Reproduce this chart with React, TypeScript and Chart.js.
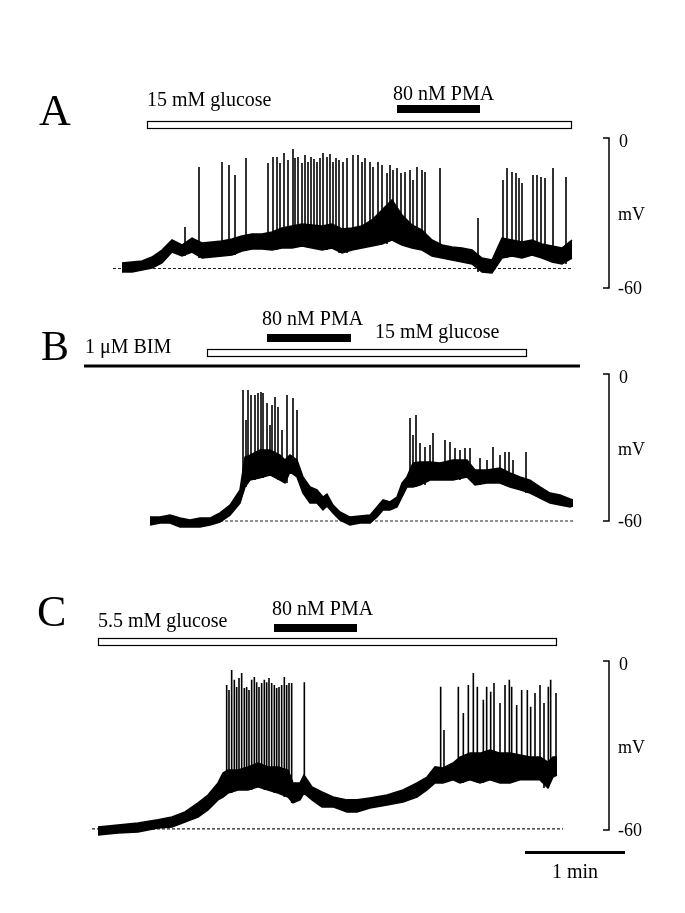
import React, { useEffect, useRef } from "react";
import { Chart, registerables } from "chart.js";

Chart.register(...registerables);

// ---------------- data (time in s, membrane potential in mV) ----------------

// Panel A – 15 mM glucose, 80 nM PMA
const aTime = [0, 6, 12, 18, 24, 30, 36, 42, 48, 54, 60, 66, 72, 78, 84, 90, 96, 102, 108, 114, 120, 126, 132, 138, 144, 150, 156, 162, 168, 174, 180, 186, 192, 198, 204, 210, 216, 222, 228, 234, 240, 246, 252, 258, 264, 270];
const aLow = [-53.6, -53.6, -52.8, -52.0, -50.0, -45.6, -47.2, -45.6, -48.0, -47.6, -47.2, -46.8, -45.2, -44.4, -44.4, -44.8, -44.0, -44.0, -43.2, -44.0, -44.8, -44.0, -46.0, -44.8, -44.0, -43.2, -42.4, -40.8, -42.8, -44.0, -44.8, -47.2, -48.0, -48.8, -49.6, -50.4, -53.6, -54.0, -48.0, -47.2, -48.0, -46.8, -48.0, -49.6, -50.4, -48.0];
const aHigh = [-50.0, -49.6, -49.2, -47.6, -44.8, -40.8, -42.8, -40.0, -42.0, -41.6, -41.2, -40.4, -39.2, -38.4, -38.4, -37.6, -36.0, -35.2, -34.4, -34.8, -35.2, -34.4, -36.4, -36.0, -35.2, -32.8, -28.8, -24.8, -30.8, -34.8, -36.8, -40.8, -42.8, -43.6, -44.0, -44.8, -48.0, -48.8, -40.0, -40.8, -41.6, -40.8, -42.4, -43.2, -44.0, -40.8];
const aSpikeT = [37.8, 46.2, 60, 64.2, 67.8, 74.4, 87.6, 90.6, 93, 94.8, 97.2, 99.6, 102.6, 103.8, 105.6, 108, 109.8, 111.6, 113.4, 115.2, 117, 118.8, 120.6, 123, 124.8, 126.6, 128.4, 130.2, 132.6, 135, 138.6, 141.6, 144, 145.8, 148.8, 150.6, 153.6, 156, 159, 160.8, 162.6, 165, 167.4, 169.8, 172.8, 174.6, 177, 180, 181.8, 190.8, 213.6, 228.6, 231, 234, 236.4, 238.2, 240, 246.6, 249, 251.4, 253.8, 258.6, 266.4];
const aSpikeV = [-35.6, -11.6, -9.6, -10.8, -14.8, -8.0, -10.0, -7.6, -7.6, -10.0, -6.0, -8.8, -4.4, -8.0, -7.6, -10.0, -6.8, -9.6, -7.6, -8.4, -9.6, -8.0, -6.0, -7.6, -6.4, -9.6, -8.0, -8.8, -9.6, -8.0, -6.8, -6.8, -9.6, -8.0, -9.6, -11.6, -9.6, -10.8, -14.0, -10.8, -12.8, -12.0, -14.0, -13.6, -12.8, -16.8, -11.6, -12.8, -13.6, -12.0, -32.0, -16.8, -12.0, -13.6, -14.0, -16.0, -18.0, -14.8, -14.8, -15.6, -16.0, -12.0, -15.6];
const aBaseline = -52.2;
const aBaselineSpan = [-5.4, 270];
const aGlucose = [15, 269.4];
const aPma = [165, 214.8];

// Panel B – 1 µM BIM throughout, 80 nM PMA, 15 mM glucose
const bTime = [0, 6, 12, 18, 24, 30, 36, 42, 48, 54, 57, 60, 66, 72, 78, 81, 84, 88.2, 91.8, 96, 100.2, 103.8, 106.2, 109.8, 114, 120, 126, 132, 136.2, 139.8, 144, 148.2, 151.2, 154.2, 157.8, 162, 168, 174, 181.8, 190.2, 195, 202.2, 210, 216, 222, 228, 234, 240, 246, 252, 253.8];
const bLow = [-61.6, -60.8, -60.8, -62.4, -62.4, -62.4, -61.6, -60.4, -57.6, -52.7, -46.1, -43.3, -42.4, -41.2, -43.3, -44.5, -40.0, -42.0, -48.6, -52.7, -52.7, -55.5, -53.9, -56.7, -59.6, -61.6, -60.8, -60.8, -58.4, -55.5, -55.5, -54.3, -50.2, -46.1, -46.1, -45.3, -43.3, -43.3, -43.3, -42.0, -45.3, -44.5, -44.5, -46.1, -47.3, -48.6, -50.6, -52.7, -53.5, -54.3, -53.9];
const bHigh = [-58.4, -58.4, -57.6, -58.8, -59.6, -58.8, -58.8, -56.7, -53.5, -47.3, -33.9, -33.1, -31.0, -31.0, -33.1, -35.1, -33.1, -35.1, -42.0, -46.1, -47.3, -50.2, -49.0, -53.5, -56.3, -58.4, -58.0, -57.6, -54.3, -51.4, -52.2, -50.2, -44.5, -42.0, -36.3, -35.9, -35.9, -36.3, -35.1, -35.1, -39.2, -39.2, -38.4, -40.4, -42.0, -43.3, -46.1, -48.6, -49.4, -51.0, -51.4];
const bSpikeT = [55.8, 57.6, 58.8, 60.6, 63, 64.8, 66.6, 67.8, 70.2, 72, 73.2, 75, 76.8, 79.2, 82.2, 85.8, 88.2, 156, 157.8, 159.6, 162, 165, 168, 169.8, 177, 180, 183, 186, 189, 192, 198, 202.2, 205.8, 210, 213, 215.4, 217.8, 225.6];
const bSpikeV = [-6.5, -18.8, -6.5, -8.6, -8.6, -7.8, -7.3, -7.8, -11.8, -20.8, -12.7, -9.4, -13.5, -22.9, -8.6, -9.8, -14.7, -18.0, -24.9, -16.7, -28.2, -29.8, -29.0, -24.1, -26.9, -27.8, -30.2, -31.0, -30.2, -30.2, -34.3, -35.1, -29.8, -33.1, -31.8, -31.8, -35.1, -31.8];
const bBaseline = -60;
const bBaselineSpan = [0, 253.8];
const bBim = [-39.6, 258];
const bGlucose = [34.2, 225.6];
const bPma = [70.2, 120.6];

// Panel C – 5.5 mM glucose, 80 nM PMA
const cTime = [0, 12, 24, 36, 44.4, 52.2, 60, 66, 72, 75, 78, 84, 90, 96, 102, 108, 114, 117, 121.2, 123.6, 128.4, 134.4, 141, 149.4, 155.4, 163.2, 173.4, 183, 191.4, 197.4, 202.2, 207, 213, 217.2, 223.2, 229.2, 235.2, 241.2, 247.2, 253.2, 259.2, 265.2, 270, 273, 275.4];
const cLow = [-61.8, -61.1, -60.7, -59.3, -58.9, -57.2, -55.4, -52.9, -49.3, -48.3, -46.9, -45.8, -45.8, -44.7, -45.8, -46.9, -48.3, -50.4, -49.3, -46.9, -49.3, -51.8, -51.8, -53.6, -53.6, -52.2, -51.1, -50.1, -48.3, -45.8, -43.3, -43.3, -42.2, -43.3, -42.2, -43.3, -42.2, -43.3, -43.3, -42.2, -42.2, -42.2, -45.1, -41.2, -40.5];
const cHigh = [-58.9, -58.2, -57.5, -56.4, -55.4, -53.6, -50.4, -47.6, -43.3, -39.8, -38.7, -38.7, -37.6, -36.2, -37.6, -37.6, -38.7, -43.3, -43.3, -40.5, -44.7, -46.5, -48.3, -49.3, -49.3, -48.6, -47.6, -45.8, -43.3, -41.2, -37.6, -38.0, -36.2, -34.1, -32.7, -32.7, -31.6, -32.7, -32.7, -33.4, -34.1, -34.1, -35.9, -34.1, -34.1];
const cSpikeT = [77.2, 78.6, 80.2, 81.8, 83.2, 84.6, 86.2, 87.8, 89.2, 90.6, 92.2, 93.8, 95.2, 96.6, 98.2, 99.8, 101.2, 102.6, 104.2, 105.8, 107.2, 108.6, 110.2, 111.8, 113.2, 114.6, 116.2, 123.8, 205.6, 207.6, 216.2, 219.2, 222.2, 225.2, 227.6, 231.2, 233.2, 235.6, 237.6, 241.2, 244.2, 246.8, 248.2, 251.2, 254.2, 257.6, 259.6, 262.2, 265.2, 267.6, 270.2, 271.6, 274.8];
const cSpikeV = [-8.5, -10.3, -3.2, -6.7, -9.2, -6.0, -4.3, -9.6, -9.2, -10.3, -6.7, -5.7, -7.5, -9.2, -7.8, -6.7, -7.5, -6.0, -7.8, -8.5, -9.6, -9.2, -8.5, -5.7, -8.5, -7.8, -7.8, -7.5, -9.1, -24.5, -9.1, -18.5, -8.5, -4.3, -9.1, -13.8, -9.1, -10.9, -7.8, -14.9, -8.5, -6.7, -9.1, -15.6, -10.3, -10.3, -16.2, -11.4, -8.5, -14.9, -9.1, -6.7, -11.4];
const cBaseline = -59.6;
const cBaselineSpan = [-3.6, 279];
const cGlucose = [0, 274.8];
const cPma = [105.6, 155.4];

// scale-bar values
const mvScale = [0, -60];
const timeScaleSec = 60;

// ---------------- layout ----------------
const W = 685;
const H = 913;
const SEC_PER_PX = 0.6;
const SERIF = '"Liberation Serif", "Times New Roman", Times, serif';

type Panel = {
  id: string;
  time: number[];
  low: number[];
  high: number[];
  spikeT: number[];
  spikeV: number[];
  baseline: number;
  baselineSpan: number[];
  x0: number; // pixel where t = 0
  y0: number; // pixel of 0 mV
  y60: number; // pixel of -60 mV
};

const panels: Panel[] = [
  { id: "A", time: aTime, low: aLow, high: aHigh, spikeT: aSpikeT, spikeV: aSpikeV, baseline: aBaseline, baselineSpan: aBaselineSpan, x0: 122, y0: 138, y60: 288 },
  { id: "B", time: bTime, low: bLow, high: bHigh, spikeT: bSpikeT, spikeV: bSpikeV, baseline: bBaseline, baselineSpan: bBaselineSpan, x0: 150, y0: 374, y60: 521 },
  { id: "C", time: cTime, low: cLow, high: cHigh, spikeT: cSpikeT, spikeV: cSpikeV, baseline: cBaseline, baselineSpan: cBaselineSpan, x0: 98, y0: 661, y60: 830 },
];

function nearestLow(p: Panel, t: number) {
  let best = 0;
  for (let i = 1; i < p.time.length; i++) {
    if (Math.abs(p.time[i] - t) < Math.abs(p.time[best] - t)) best = i;
  }
  return p.low[best];
}

function buildDatasets() {
  const ds: any[] = [];
  panels.forEach((p) => {
    const xAxisID = "x" + p.id;
    const yAxisID = "y" + p.id;
    ds.push({
      data: [
        { x: p.baselineSpan[0], y: p.baseline },
        { x: p.baselineSpan[1], y: p.baseline },
      ],
      xAxisID, yAxisID,
      borderColor: "#222",
      borderWidth: 1.2,
      borderDash: [3, 2],
      pointRadius: 0,
      fill: false,
      order: 10,
    });
    ds.push({
      data: p.time.map((t, i) => ({ x: t, y: p.low[i] })),
      xAxisID, yAxisID,
      borderColor: "#000",
      borderWidth: 1.5,
      pointRadius: 0,
      fill: false,
      order: 2,
    });
    ds.push({
      data: p.time.map((t, i) => ({ x: t, y: p.high[i] })),
      xAxisID, yAxisID,
      borderColor: "#000",
      backgroundColor: "#000",
      borderWidth: 1.5,
      pointRadius: 0,
      fill: "-1",
      order: 2,
    });
    const spikes: any[] = [];
    p.spikeT.forEach((t, i) => {
      spikes.push({ x: t, y: nearestLow(p, t) });
      spikes.push({ x: t, y: p.spikeV[i] });
      spikes.push({ x: t, y: null });
    });
    ds.push({
      data: spikes,
      xAxisID, yAxisID,
      borderColor: "#000",
      borderWidth: 1.6,
      pointRadius: 0,
      spanGaps: false,
      fill: false,
      order: 1,
    });
  });
  return ds;
}

function buildScales() {
  const scales: any = {};
  panels.forEach((p) => {
    const k = (p.y60 - p.y0) / 60;
    scales["x" + p.id] = {
      type: "linear",
      display: false,
      min: -p.x0 * SEC_PER_PX,
      max: (W - p.x0) * SEC_PER_PX,
    };
    scales["y" + p.id] = {
      type: "linear",
      display: false,
      min: -(H - p.y0) / k,
      max: p.y0 / k,
    };
  });
  return scales;
}

function text(ctx: CanvasRenderingContext2D, s: string, x: number, y: number, size: number, align: CanvasTextAlign = "left") {
  ctx.font = `${size}px ${SERIF}`;
  ctx.textAlign = align;
  ctx.textBaseline = "alphabetic";
  ctx.fillStyle = "#000";
  ctx.fillText(s, x, y);
}

function openBar(ctx: CanvasRenderingContext2D, xs: any, span: number[], top: number, h: number) {
  const x1 = xs.getPixelForValue(span[0]);
  const x2 = xs.getPixelForValue(span[1]);
  ctx.fillStyle = "#fff";
  ctx.fillRect(x1, top, x2 - x1, h);
  ctx.strokeStyle = "#000";
  ctx.lineWidth = 1.2;
  ctx.strokeRect(x1 + 0.5, top + 0.5, x2 - x1, h);
}

function solidBar(ctx: CanvasRenderingContext2D, xs: any, span: number[], top: number, h: number) {
  const x1 = xs.getPixelForValue(span[0]);
  const x2 = xs.getPixelForValue(span[1]);
  ctx.fillStyle = "#000";
  ctx.fillRect(x1, top, x2 - x1, h);
}

function mvBracket(ctx: CanvasRenderingContext2D, ys: any, x: number) {
  const yt = ys.getPixelForValue(mvScale[0]);
  const yb = ys.getPixelForValue(mvScale[1]);
  ctx.strokeStyle = "#000";
  ctx.lineWidth = 1.5;
  ctx.beginPath();
  ctx.moveTo(x - 6, yt);
  ctx.lineTo(x, yt);
  ctx.lineTo(x, yb);
  ctx.lineTo(x - 6, yb);
  ctx.stroke();
  text(ctx, String(mvScale[0]), x + 10, yt + 9, 18);
  text(ctx, "mV", x + 9, (yt + yb) / 2 + 7, 18);
  text(ctx, String(mvScale[1]), x + 9, yb + 6, 18);
}

const overlay = {
  id: "overlay",
  afterDraw(chart: any) {
    const ctx: CanvasRenderingContext2D = chart.ctx;
    ctx.save();
    const xA = chart.scales.xA, yA = chart.scales.yA;
    const xB = chart.scales.xB, yB = chart.scales.yB;
    const xC = chart.scales.xC, yC = chart.scales.yC;

    // Panel A
    text(ctx, "A", 39, 125, 44);
    text(ctx, "15 mM glucose", 147, 106, 20);
    text(ctx, "80 nM PMA", 393, 100, 20);
    solidBar(ctx, xA, aPma, 105, 8);
    openBar(ctx, xA, aGlucose, 121, 7);
    mvBracket(ctx, yA, 609);

    // Panel B
    text(ctx, "B", 41, 360, 42);
    text(ctx, "1 \u03bcM BIM", 85, 353, 20);
    text(ctx, "80 nM PMA", 262, 325, 20);
    text(ctx, "15 mM glucose", 375, 338, 20);
    solidBar(ctx, xB, bPma, 334, 8);
    openBar(ctx, xB, bGlucose, 349, 7);
    {
      const x1 = xB.getPixelForValue(bBim[0]);
      const x2 = xB.getPixelForValue(bBim[1]);
      ctx.fillStyle = "#000";
      ctx.fillRect(x1, 364.5, x2 - x1, 3);
    }
    mvBracket(ctx, yB, 609);

    // Panel C
    text(ctx, "C", 37, 626, 44);
    text(ctx, "5.5 mM glucose", 98, 627, 20);
    text(ctx, "80 nM PMA", 272, 615, 20);
    solidBar(ctx, xC, cPma, 624, 8);
    openBar(ctx, xC, cGlucose, 638, 7);
    mvBracket(ctx, yC, 609);

    // time scale bar (1 min)
    {
      const tStart = xC.getValueForPixel(525);
      const x1 = xC.getPixelForValue(tStart);
      const x2 = xC.getPixelForValue(tStart + timeScaleSec);
      ctx.fillStyle = "#000";
      ctx.fillRect(x1, 851, x2 - x1, 3);
      text(ctx, "1 min", (x1 + x2) / 2, 878, 20, "center");
    }
    ctx.restore();
  },
};

export default function App() {
  const ref = useRef<HTMLCanvasElement | null>(null);
  useEffect(() => {
    if (!ref.current) return;
    const chart = new Chart(ref.current, {
      type: "line",
      data: { datasets: buildDatasets() },
      options: {
        animation: false,
        responsive: false,
        maintainAspectRatio: false,
        devicePixelRatio: 1,
        layout: { padding: 0 },
        plugins: {
          legend: { display: false },
          tooltip: { enabled: false },
          title: { display: false },
        },
        elements: { line: { tension: 0 } },
        scales: buildScales(),
      } as any,
      plugins: [overlay],
    });
    return () => chart.destroy();
  }, []);
  return (
    <div style={{ position: "absolute", left: 0, top: 0, width: W, height: H, background: "#fff" }}>
      <canvas ref={ref} width={W} height={H} style={{ display: "block", width: W, height: H }} />
    </div>
  );
}
